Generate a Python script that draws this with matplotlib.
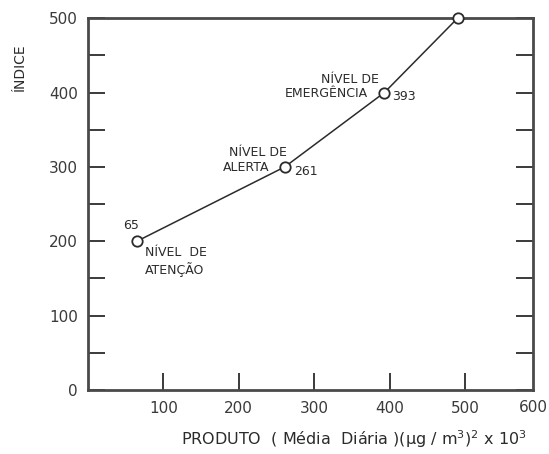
import numpy as np
import matplotlib.pyplot as plt
from matplotlib.ticker import MultipleLocator

# data
produto = [65, 261, 393, 490]
indice = [200, 300, 400, 500]
xticks = [100, 200, 300, 400, 500]
yticks = [0, 100, 200, 300, 400, 500]

ink = '#2b2b2b'
frame = '#4a4a4a'

fig = plt.figure(figsize=(5.49, 4.54), dpi=100)
ax = fig.add_axes([0.160, 0.141, 0.811, 0.819])

ax.plot(produto, indice, color=ink, lw=1.1, marker='o', ms=7.5,
        mfc='white', mec=ink, mew=1.3, clip_on=False, zorder=5)

ax.set_xlim(0, 590)
ax.set_ylim(0, 500)
ax.set_xticks(xticks)
ax.set_yticks(yticks)
ax.yaxis.set_minor_locator(MultipleLocator(50))

for s in ax.spines.values():
    s.set_linewidth(2.0)
    s.set_color(frame)

ax.tick_params(axis='y', which='both', direction='in', length=12, width=1.3,
               color=ink, right=True, labelright=False, labelsize=11,
               labelcolor='#3a3a3a', pad=7)
ax.tick_params(axis='x', which='both', direction='in', length=12, width=1.3,
               color=ink, top=False, labelsize=11, labelcolor='#3a3a3a', pad=8)
ax.tick_params(axis='x', which='minor', bottom=False)

# "600" label at the right edge of the frame
ax.text(1.0, -0.027, '600', transform=ax.transAxes, ha='center', va='top',
        fontsize=11, color='#3a3a3a')

# annotations
fs = 9
ax.text(produto[0] - 8, indice[0] + 12, '65', ha='center', va='bottom',
        fontsize=fs, color=ink)
ax.text(produto[0] + 11, indice[0] - 6, 'NÍVEL  DE\nATENÇÃO', ha='left',
        va='top', fontsize=fs, color=ink, linespacing=1.3)

ax.text(produto[1] - 36, indice[1] + 19, 'NÍVEL DE', ha='center', va='center',
        fontsize=fs, color=ink)
ax.text(produto[1] - 51, indice[1] - 1, 'ALERTA', ha='center', va='center',
        fontsize=fs, color=ink)
ax.text(produto[1] + 13, indice[1] - 6, '261', ha='left', va='center',
        fontsize=fs, color=ink)

ax.text(produto[2] - 8, indice[2] + 17, 'NÍVEL DE', ha='right', va='center',
        fontsize=fs, color=ink)
ax.text(produto[2] - 22, indice[2] - 1, 'EMERGÊNCIA', ha='right', va='center',
        fontsize=fs, color=ink)
ax.text(produto[2] + 10, indice[2] - 5, '393', ha='left', va='center',
        fontsize=fs, color=ink)

fig.text(0.037, 0.852, 'ÍNDICE', rotation=90, ha='center', va='center',
         fontsize=10, color=ink)
fig.text(0.645, 0.008, 'PRODUTO  ( Média  Diária )(μg / m$^3$)$^2$ x 10$^3$',
         ha='center', va='bottom', fontsize=11.5, color=ink)

fig.savefig('out.png', dpi=100)
